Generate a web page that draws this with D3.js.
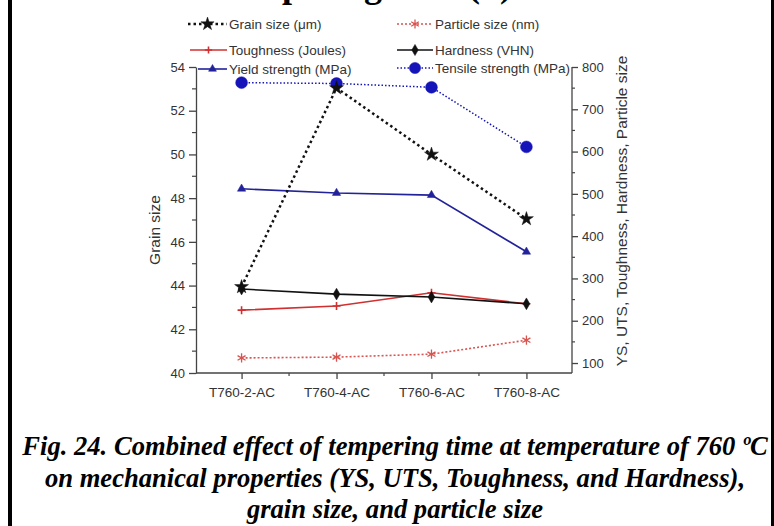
<!DOCTYPE html>
<html><head><meta charset="utf-8">
<script src="https://cdn.jsdelivr.net/npm/d3@7"></script>
<style>body{margin:0;background:#fff}svg{display:block}</style>
</head><body>
<svg id="c" width="774" height="526"></svg>
<script>
const categories = ["T760-2-AC","T760-4-AC","T760-6-AC","T760-8-AC"];
const grainSize = [43.94, 53.04, 50.0, 47.05];
const particleSize = [112, 114, 121, 154];
const toughness = [225, 235, 266, 240];
const hardness = [275, 263, 256, 240];
const yieldStrength = [512, 502, 497, 363];
const tensileStrength = [763, 761, 752, 611];
const leftTicks = [40,42,44,46,48,50,52,54];
const rightTicks = [100,200,300,400,500,600,700,800];
const captionLines = [
  "Fig. 24. Combined effect of tempering time at temperature of 760 \u00baC",
  "on mechanical properties (YS, UTS, Toughness, and Hardness),",
  "grain size, and particle size"
];

const svg = d3.select("#c");
const L = 196, R = 572, T = 67, B = 373;
const x = d3.scalePoint().domain(categories).range([L, R]).padding(0.48);
const yL = d3.scaleLinear().domain([40, 54]).range([B, T]);
const yR = d3.scaleLinear().domain([76.4, 800]).range([B, T]);
const txt = "#333";
const sans = "'Liberation Sans', Arial, sans-serif";

// frame bars
svg.append("rect").attr("x",8).attr("y",0).attr("width",4).attr("height",526).attr("fill","#000");
svg.append("rect").attr("x",771).attr("y",0).attr("width",4).attr("height",526).attr("fill","#000");

// top title, cut off by the top edge as in the source image
svg.append("text").attr("x",512).attr("y",-3).attr("text-anchor","end")
  .attr("font-family","'Liberation Serif', 'Times New Roman', serif").attr("font-weight","bold")
  .attr("font-size",36).attr("fill","#000").text("Effect of tempering time (h)");

// axes
function styleAxis(g){
  g.selectAll("path,line").attr("stroke","#444").attr("stroke-width",1.3);
  g.selectAll("text").attr("fill",txt).attr("font-family",sans).attr("font-size",13);
}
const gx = svg.append("g").attr("transform",`translate(0,${B})`)
  .call(d3.axisBottom(x).tickSize(6).tickSizeOuter(0).tickPadding(8));
styleAxis(gx); gx.selectAll("text").attr("font-size",13.5);
gx.select("path").attr("d",`M${L},0H${R}`);
const step = x.step();
const minorX = categories.map(c => x(c) + step/2).concat([x(categories[0]) - step/2]).filter(v => v > L+1 && v < R-1);
gx.selectAll(".mx").data(minorX).enter().append("line")
  .attr("x1",d=>d).attr("x2",d=>d).attr("y1",0).attr("y2",3).attr("stroke","#444").attr("stroke-width",1.2);

const gl = svg.append("g").attr("transform",`translate(${L},0)`)
  .call(d3.axisLeft(yL).tickValues(leftTicks).tickSize(7).tickSizeOuter(0).tickFormat(d3.format("d")).tickPadding(4));
styleAxis(gl);
gl.selectAll(".mn").data(d3.range(41,54,2)).enter().append("line")
  .attr("x1",-4).attr("x2",0).attr("y1",d=>yL(d)).attr("y2",d=>yL(d)).attr("stroke","#444").attr("stroke-width",1.2);

const gr = svg.append("g").attr("transform",`translate(${R},0)`)
  .call(d3.axisRight(yR).tickValues(rightTicks).tickSize(6).tickSizeOuter(0).tickPadding(4));
styleAxis(gr);
gr.select("path").attr("d",`M0,${T}V${B}`);
gr.selectAll(".mn").data(d3.range(150,800,100)).enter().append("line")
  .attr("x1",0).attr("x2",3).attr("y1",d=>yR(d)).attr("y2",d=>yR(d)).attr("stroke","#444").attr("stroke-width",1.2);

// axis titles
svg.append("text").attr("transform",`translate(160,230) rotate(-90)`).attr("text-anchor","middle")
  .attr("font-family",sans).attr("font-size",15.5).attr("fill",txt).text("Grain size");
svg.append("text").attr("transform",`translate(627,211) rotate(-90)`).attr("text-anchor","middle")
  .attr("font-family",sans).attr("font-size",15.5).attr("fill",txt).text("YS, UTS, Toughness, Hardness, Particle size");

// series definitions
const series = [
  {name:"Particle size (nm)", vals:particleSize, y:yR, color:"#d9534f", dash:"2,2", w:1.6, sym:"asterisk", size:60},
  {name:"Toughness (Joules)", vals:toughness, y:yR, color:"#d03030", dash:null, w:1.6, sym:"plus", size:4},
  {name:"Hardness (VHN)", vals:hardness, y:yR, color:"#111", dash:null, w:1.6, sym:"diamond", size:40},
  {name:"Yield strength (MPa)", vals:yieldStrength, y:yR, color:"#22229a", dash:null, w:1.6, sym:"triangle", size:30},
  {name:"Tensile strength (MPa)", vals:tensileStrength, y:yR, color:"#1414b8", dash:"1.5,2", w:1.5, sym:"circle", size:110},
  {name:"Grain size (\u03bcm)", vals:grainSize, y:yL, color:"#111", dash:"2.5,3", w:2.5, sym:"star", size:60}
];
const symMap = {asterisk:d3.symbolAsterisk, diamond:d3.symbolDiamond, triangle:d3.symbolTriangle, circle:d3.symbolCircle, star:d3.symbolStar};

function drawMarker(g, s, cx, cy, scale){
  const k = scale || 1;
  if (s.sym === "plus") {
    const r = s.size * k;
    g.append("path").attr("transform",`translate(${cx},${cy})`)
      .attr("d",`M${-r},0H${r}M0,${-r}V${r}`).attr("stroke",s.color).attr("stroke-width",1.6).attr("fill","none");
    return;
  }
  const p = g.append("path").attr("transform",`translate(${cx},${cy})`)
    .attr("d", d3.symbol().type(symMap[s.sym]).size(s.size*k)());
  if (s.sym === "asterisk") p.attr("fill","none").attr("stroke",s.color).attr("stroke-width",1.3);
  else p.attr("fill",s.color).attr("stroke",s.color).attr("stroke-width",0.5);
}

series.forEach(s => {
  const line = d3.line().x((d,i)=>x(categories[i])).y(d=>s.y(d));
  const p = svg.append("path").datum(s.vals).attr("d",line).attr("fill","none")
    .attr("stroke",s.color).attr("stroke-width",s.w);
  if (s.dash) p.attr("stroke-dasharray",s.dash);
  const g = svg.append("g");
  s.vals.forEach((v,i) => drawMarker(g, s, x(categories[i]), s.y(v)));
});

// legend
const legendItems = [
  {s:series[5], x1:188, x2:227, tx:229, y:24},
  {s:series[1], x1:190, x2:227, tx:229, y:50},
  {s:series[3], x1:198, x2:227, tx:229, y:69},
  {s:series[0], x1:397, x2:433, tx:435, y:24},
  {s:series[2], x1:397, x2:433, tx:435, y:50},
  {s:series[4], x1:397, x2:433, tx:435, y:68}
];
const lg = svg.append("g");
legendItems.forEach(it => {
  const s = it.s;
  const l = lg.append("line").attr("x1",it.x1).attr("x2",it.x2).attr("y1",it.y).attr("y2",it.y)
    .attr("stroke",s.color).attr("stroke-width",s.w);
  if (s.dash) l.attr("stroke-dasharray",s.dash);
  drawMarker(lg, s, (it.x1+it.x2)/2, it.y, 0.9);
  lg.append("text").attr("x",it.tx).attr("y",it.y).attr("dy","0.35em")
    .attr("font-family",sans).attr("font-size",13.5).attr("fill",txt).text(s.name);
});

// caption
const cap = svg.append("g").attr("font-family","'Liberation Serif', 'Times New Roman', serif")
  .attr("font-weight","bold").attr("font-style","italic").attr("font-size",26.6).attr("fill","#000")
  .attr("text-anchor","middle");
captionLines.forEach((t,i) => cap.append("text").attr("x",395).attr("y",455 + i*31.5).text(t));
</script>
</body></html>
